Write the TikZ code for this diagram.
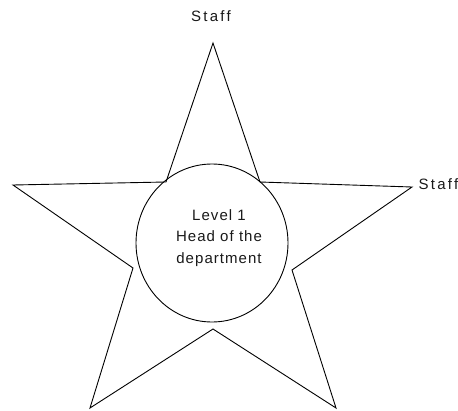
\documentclass[tikz,border=0pt]{standalone}
\usepackage{fontspec}
\setmainfont{Liberation Sans}[LetterSpace=7]
\newfontfamily\stafffont{Liberation Sans}[LetterSpace=15]
\usetikzlibrary{shapes.geometric}
\begin{document}
\begin{tikzpicture}[x=1pt,y=-1pt,
  starline/.style={draw=black,line width=0.9pt,line join=miter},
  ring/.style={draw=black,line width=0.9pt,ellipse,inner sep=0pt,minimum width=152pt,minimum height=158pt},
  lbl/.style={font=\fontsize{15}{21.5}\selectfont,text=black!90,inner sep=0pt,align=center},
  stafflbl/.style={font=\stafffont\fontsize{15}{16}\selectfont,text=black!90,inner sep=0pt}]
\useasboundingbox (0,0) rectangle (458,410);
\coordinate (t) at (213,43);
\coordinate (ir) at (260,182);
\coordinate (r) at (412,187);
\coordinate (lr) at (292,270);
\coordinate (br) at (336,408);
\coordinate (b) at (213,329);
\coordinate (bl) at (90,408);
\coordinate (ll) at (133,268);
\coordinate (l) at (13,185);
\coordinate (il) at (166,182);
\draw[starline] (t) -- (ir) -- (r) -- (lr) -- (br) -- (b) -- (bl) -- (ll) -- (l) -- (il) -- cycle;
\node[ring] (head) at (212,243) {};
\node[lbl,anchor=north] (headtext) at (219,209) {Level 1\\Head of the\\department};
\node[stafflbl,anchor=base] (stafftop) at (211,21) {Staff};
\node[stafflbl,anchor=base west] (staffright) at (418.5,189) {Staff};
\end{tikzpicture}
\end{document}
